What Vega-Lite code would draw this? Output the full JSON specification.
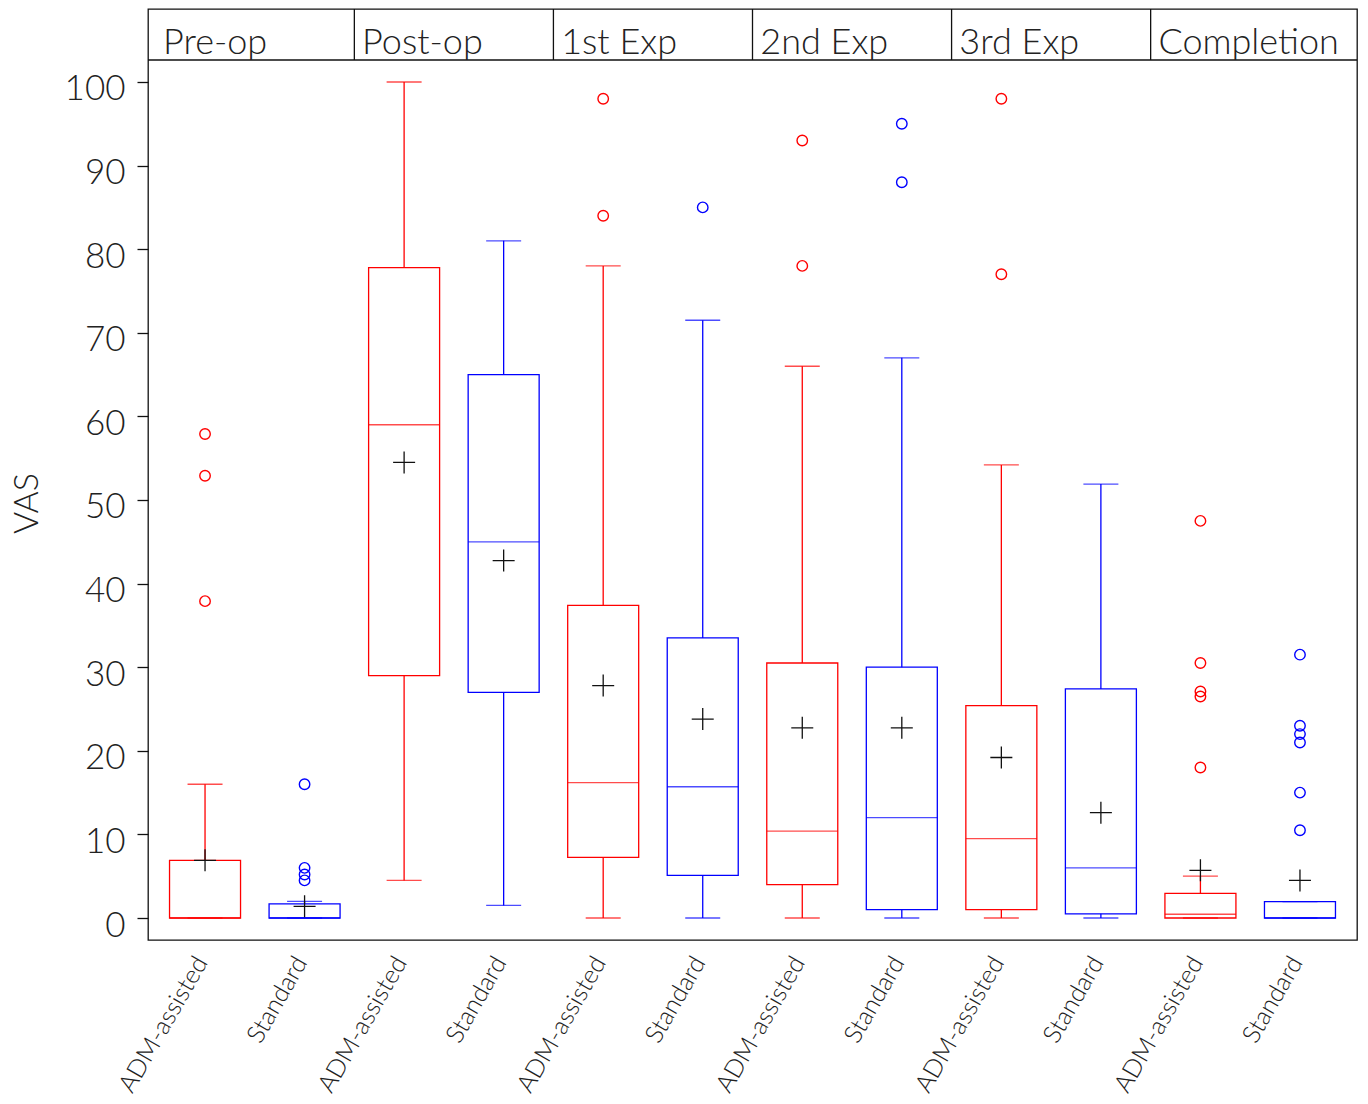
{
  "$schema": "https://vega.github.io/schema/vega-lite/v6.json",
  "autosize": {"type": "none"},
  "padding": {"left": 148, "top": 9, "right": 11, "bottom": 164},
  "width": 1209,
  "height": 931,
  "background": "white",
  "config": {
    "font": "Lato",
    "view": {"stroke": "#111", "strokeWidth": 1.3},
    "axis": {"grid": false, "labelFont": "Lato", "titleFont": "Lato", "labelFontWeight": 300, "titleFontWeight": 300, "labelColor": "#222", "titleColor": "#222"}
  },
  "datasets": {
    "boxes": [
      {"i": 1, "grp": "ADM-assisted", "stage": "Pre-op", "low": 0, "q1": 0, "med": 0, "q3": 6.9, "high": 16, "mean": 6.9},
      {"i": 2, "grp": "Standard", "stage": "Pre-op", "low": 0, "q1": 0, "med": 0, "q3": 1.7, "high": 2.0, "mean": 1.4},
      {"i": 3, "grp": "ADM-assisted", "stage": "Post-op", "low": 4.5, "q1": 29.0, "med": 59.0, "q3": 77.8, "high": 100, "mean": 54.5},
      {"i": 4, "grp": "Standard", "stage": "Post-op", "low": 1.5, "q1": 27.0, "med": 45.0, "q3": 65.0, "high": 81.0, "mean": 42.75},
      {"i": 5, "grp": "ADM-assisted", "stage": "1st Exp", "low": 0, "q1": 7.25, "med": 16.2, "q3": 37.4, "high": 78.0, "mean": 27.8},
      {"i": 6, "grp": "Standard", "stage": "1st Exp", "low": 0, "q1": 5.1, "med": 15.7, "q3": 33.5, "high": 71.5, "mean": 23.8},
      {"i": 7, "grp": "ADM-assisted", "stage": "2nd Exp", "low": 0, "q1": 4.0, "med": 10.4, "q3": 30.5, "high": 66.0, "mean": 22.75},
      {"i": 8, "grp": "Standard", "stage": "2nd Exp", "low": 0, "q1": 1.0, "med": 12.0, "q3": 30.0, "high": 67.0, "mean": 22.75},
      {"i": 9, "grp": "ADM-assisted", "stage": "3rd Exp", "low": 0, "q1": 1.0, "med": 9.5, "q3": 25.4, "high": 54.2, "mean": 19.2},
      {"i": 10, "grp": "Standard", "stage": "3rd Exp", "low": 0, "q1": 0.5, "med": 6.0, "q3": 27.4, "high": 51.9, "mean": 12.6},
      {"i": 11, "grp": "ADM-assisted", "stage": "Completion", "low": 0, "q1": 0, "med": 0.45, "q3": 2.95, "high": 5.0, "mean": 5.7},
      {"i": 12, "grp": "Standard", "stage": "Completion", "low": 0, "q1": 0, "med": 0, "q3": 1.95, "high": 1.95, "mean": 4.5}
    ],
    "outliers": [
      {"i": 1, "grp": "ADM-assisted", "v": 57.9},
      {"i": 1, "grp": "ADM-assisted", "v": 52.9},
      {"i": 1, "grp": "ADM-assisted", "v": 37.9},
      {"i": 2, "grp": "Standard", "v": 16.0},
      {"i": 2, "grp": "Standard", "v": 6.0},
      {"i": 2, "grp": "Standard", "v": 5.2},
      {"i": 2, "grp": "Standard", "v": 4.5},
      {"i": 5, "grp": "ADM-assisted", "v": 98.0},
      {"i": 5, "grp": "ADM-assisted", "v": 84.0},
      {"i": 6, "grp": "Standard", "v": 85.0},
      {"i": 7, "grp": "ADM-assisted", "v": 93.0},
      {"i": 7, "grp": "ADM-assisted", "v": 78.0},
      {"i": 8, "grp": "Standard", "v": 95.0},
      {"i": 8, "grp": "Standard", "v": 88.0},
      {"i": 9, "grp": "ADM-assisted", "v": 98.0},
      {"i": 9, "grp": "ADM-assisted", "v": 77.0},
      {"i": 11, "grp": "ADM-assisted", "v": 47.5},
      {"i": 11, "grp": "ADM-assisted", "v": 30.5},
      {"i": 11, "grp": "ADM-assisted", "v": 27.1},
      {"i": 11, "grp": "ADM-assisted", "v": 26.5},
      {"i": 11, "grp": "ADM-assisted", "v": 18.0},
      {"i": 12, "grp": "Standard", "v": 31.5},
      {"i": 12, "grp": "Standard", "v": 23.0},
      {"i": 12, "grp": "Standard", "v": 22.0},
      {"i": 12, "grp": "Standard", "v": 21.0},
      {"i": 12, "grp": "Standard", "v": 15.0},
      {"i": 12, "grp": "Standard", "v": 10.5}
    ],
    "panels": [
      {"i": 1, "label": "Pre-op"},
      {"i": 3, "label": "Post-op"},
      {"i": 5, "label": "1st Exp"},
      {"i": 7, "label": "2nd Exp"},
      {"i": 9, "label": "3rd Exp"},
      {"i": 11, "label": "Completion"}
    ],
    "bounds": [{"b": 2.5}, {"b": 4.5}, {"b": 6.5}, {"b": 8.5}, {"b": 10.5}]
  },
  "encoding": {
    "x": {"type": "quantitative", "scale": {"domain": [0.427, 12.573], "nice": false, "zero": false, "padding": 0}},
    "y": {"type": "quantitative", "scale": {"domain": [-2.63, 108.73], "nice": false, "zero": false, "padding": 0}}
  },
  "layer": [
    {
      "data": {"name": "bounds"},
      "mark": {"type": "rule", "color": "#111", "strokeWidth": 1.3},
      "encoding": {
        "x": {"field": "b", "type": "quantitative",
          "axis": {"orient": "bottom", "values": [1,2,3,4,5,6,7,8,9,10,11,12], "labelExpr": "datum.value % 2 == 1 ? 'ADM-assisted' : 'Standard'", "labelAngle": -60, "labelAlign": "right", "labelBaseline": "middle", "labelPadding": 18, "labelOffset": -4, "labelFontSize": 25, "ticks": false, "domain": false, "title": null}},
        "y": {"datum": 102.63, "axis": {"values": [0,10,20,30,40,50,60,70,80,90,100], "tickSize": 11, "tickColor": "#111", "tickWidth": 1.3, "labelFontSize": 35, "labelPadding": 12, "labelOffset": 7, "domain": false, "title": "VAS", "titleFontSize": 34, "titleX": -121, "titleY": 494, "titleBaseline": "middle", "titleAngle": -90}},
        "y2": {"datum": 108.73}
      }
    },
    {
      "data": {"values": [{"a": 0.427, "b": 12.573}]},
      "mark": {"type": "rule", "color": "#111", "strokeWidth": 1.3},
      "encoding": {
        "x": {"field": "a", "type": "quantitative"},
        "x2": {"field": "b"},
        "y": {"datum": 102.63}
      }
    },
    {
      "data": {"name": "boxes"},
      "mark": {"type": "rule", "strokeWidth": 1.3},
      "encoding": {
        "x": {"field": "i", "type": "quantitative"},
        "y": {"field": "low", "type": "quantitative"},
        "y2": {"field": "high"},
        "color": {"field": "grp", "type": "nominal", "scale": {"domain": ["ADM-assisted", "Standard"], "range": ["#ff0000", "#0000ff"]}, "legend": null}
      }
    },
    {
      "data": {"name": "boxes"},
      "mark": {"type": "bar", "size": 71, "fill": "white", "strokeWidth": 1.3},
      "encoding": {
        "x": {"field": "i", "type": "quantitative"},
        "y": {"field": "q1", "type": "quantitative"},
        "y2": {"field": "q3"},
        "stroke": {"field": "grp", "type": "nominal", "scale": {"domain": ["ADM-assisted", "Standard"], "range": ["#ff0000", "#0000ff"]}, "legend": null}
      }
    },
    {
      "data": {"name": "boxes"},
      "mark": {"type": "tick", "orient": "horizontal", "size": 71, "thickness": 1.3},
      "encoding": {
        "x": {"field": "i", "type": "quantitative"},
        "y": {"field": "med", "type": "quantitative"},
        "color": {"field": "grp", "type": "nominal", "legend": null}
      }
    },
    {
      "data": {"name": "boxes"},
      "mark": {"type": "tick", "orient": "horizontal", "size": 35, "thickness": 1.3},
      "encoding": {
        "x": {"field": "i", "type": "quantitative"},
        "y": {"field": "high", "type": "quantitative"},
        "color": {"field": "grp", "type": "nominal", "legend": null}
      }
    },
    {
      "data": {"name": "boxes"},
      "mark": {"type": "tick", "orient": "horizontal", "size": 35, "thickness": 1.3},
      "encoding": {
        "x": {"field": "i", "type": "quantitative"},
        "y": {"field": "low", "type": "quantitative"},
        "color": {"field": "grp", "type": "nominal", "legend": null}
      }
    },
    {
      "data": {"name": "outliers"},
      "mark": {"type": "point", "shape": "circle", "filled": false, "size": 110, "strokeWidth": 1.4, "opacity": 1},
      "encoding": {
        "x": {"field": "i", "type": "quantitative"},
        "y": {"field": "v", "type": "quantitative"},
        "color": {"field": "grp", "type": "nominal", "legend": null}
      }
    },
    {
      "data": {"name": "boxes"},
      "mark": {"type": "point", "shape": "M-1,0H1M0,-1V1", "filled": false, "size": 484, "stroke": "#111", "strokeWidth": 1.3, "opacity": 1},
      "encoding": {
        "x": {"field": "i", "type": "quantitative"},
        "y": {"field": "mean", "type": "quantitative"}
      }
    },
    {
      "data": {"name": "panels"},
      "mark": {"type": "text", "align": "left", "baseline": "alphabetic", "dx": -42, "fontSize": 36, "fontWeight": 300, "font": "Lato", "color": "#222"},
      "encoding": {
        "x": {"field": "i", "type": "quantitative"},
        "y": {"datum": 103.3},
        "text": {"field": "label"}
      }
    }
  ]
}
